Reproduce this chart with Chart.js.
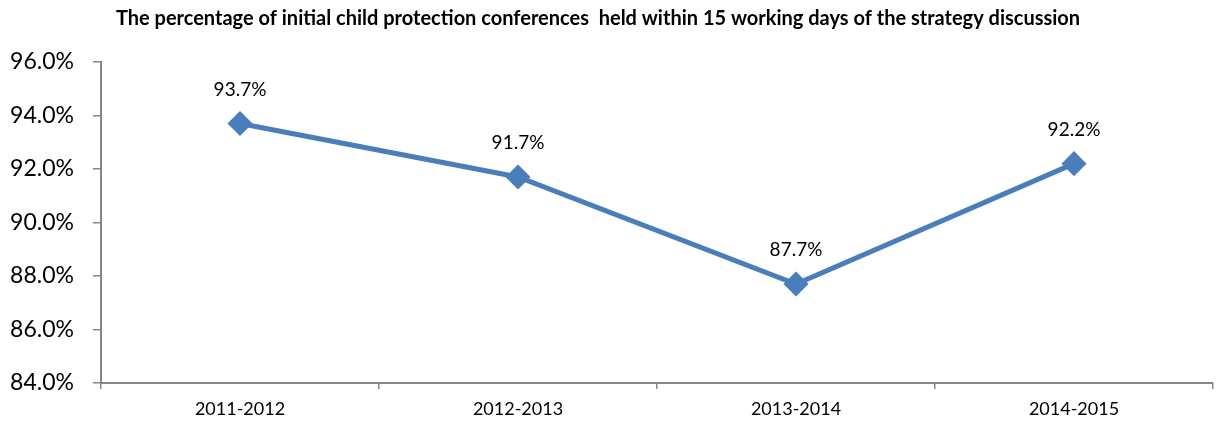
<!DOCTYPE html>
<html>
<head>
<meta charset="utf-8">
<script src="https://cdn.jsdelivr.net/npm/chart.js@4"></script>
<style>
  html, body { margin: 0; padding: 0; background: #fff; }
  #wrap { width: 1216px; height: 423px; position: relative; }
</style>
</head>
<body>
<div id="wrap"><canvas id="c" width="1216" height="423"></canvas></div>
<script>
const titleText = 'The percentage of initial child protection conferences  held within 15 working days of the strategy discussion';
const categories = ['2011-2012', '2012-2013', '2013-2014', '2014-2015'];
const percentHeld = [93.7, 91.7, 87.7, 92.2];
const yMin = 84, yMax = 96, yStep = 2;

const FONT = 'Lato, "Open Sans", sans-serif';
const AXIS_GREY = '#868686';
const LINE_BLUE = '#4A7EBB';

// Heading across the top of the canvas
const headingPlugin = {
  id: 'heading',
  afterDraw(chart) {
    const ctx = chart.ctx;
    ctx.save();
    ctx.font = 'bold 20px ' + FONT;
    ctx.fillStyle = '#000';
    ctx.textAlign = 'center';
    ctx.textBaseline = 'middle';
    ctx.fillText(titleText, 598, 19);
    ctx.restore();
  }
};

// Value labels above each point
const valueLabels = {
  id: 'valueLabels',
  afterDatasetsDraw(chart) {
    const ctx = chart.ctx;
    const meta = chart.getDatasetMeta(0);
    ctx.save();
    ctx.font = '19px ' + FONT;
    ctx.fillStyle = '#000';
    ctx.textAlign = 'center';
    ctx.textBaseline = 'middle';
    meta.data.forEach((pt, i) => {
      const v = chart.data.datasets[0].data[i];
      ctx.fillText(v.toFixed(1) + '%', pt.x, pt.y - 34);
    });
    ctx.restore();
  }
};

new Chart(document.getElementById('c'), {
  type: 'line',
  data: {
    labels: categories,
    datasets: [{
      data: percentHeld,
      borderColor: LINE_BLUE,
      backgroundColor: LINE_BLUE,
      borderWidth: 5,
      pointStyle: 'rectRot',
      pointRadius: 9,
      pointHoverRadius: 9,
      pointBackgroundColor: LINE_BLUE,
      pointBorderColor: LINE_BLUE,
      tension: 0
    }]
  },
  options: {
    responsive: false,
    animation: false,
    events: [],
    layout: { autoPadding: false, padding: { top: 62, right: 3, bottom: 0, left: 0 } },
    plugins: { legend: { display: false }, tooltip: { enabled: false } },
    scales: {
      x: {
        offset: true,
        afterFit(s) { s.height = 40; s.paddingLeft = 0; s.paddingRight = 0; },
        grid: { offset: true, drawOnChartArea: false, drawTicks: true, tickLength: 6, color: AXIS_GREY, lineWidth: 1.5 },
        border: { color: AXIS_GREY, width: 2 },
        ticks: { color: '#000', font: { family: FONT, size: 18 }, padding: 9, maxRotation: 0 }
      },
      y: {
        min: yMin,
        max: yMax,
        afterFit(s) { s.width = 101; },
        grid: { drawOnChartArea: false, drawTicks: true, tickLength: 8, color: AXIS_GREY, lineWidth: 1.5 },
        border: { color: AXIS_GREY, width: 2 },
        ticks: {
          stepSize: yStep,
          color: '#000',
          font: { family: FONT, size: 23 },
          padding: 19,
          callback: v => v.toFixed(1) + '%'
        }
      }
    }
  },
  plugins: [headingPlugin, valueLabels]
});
</script>
</body>
</html>
